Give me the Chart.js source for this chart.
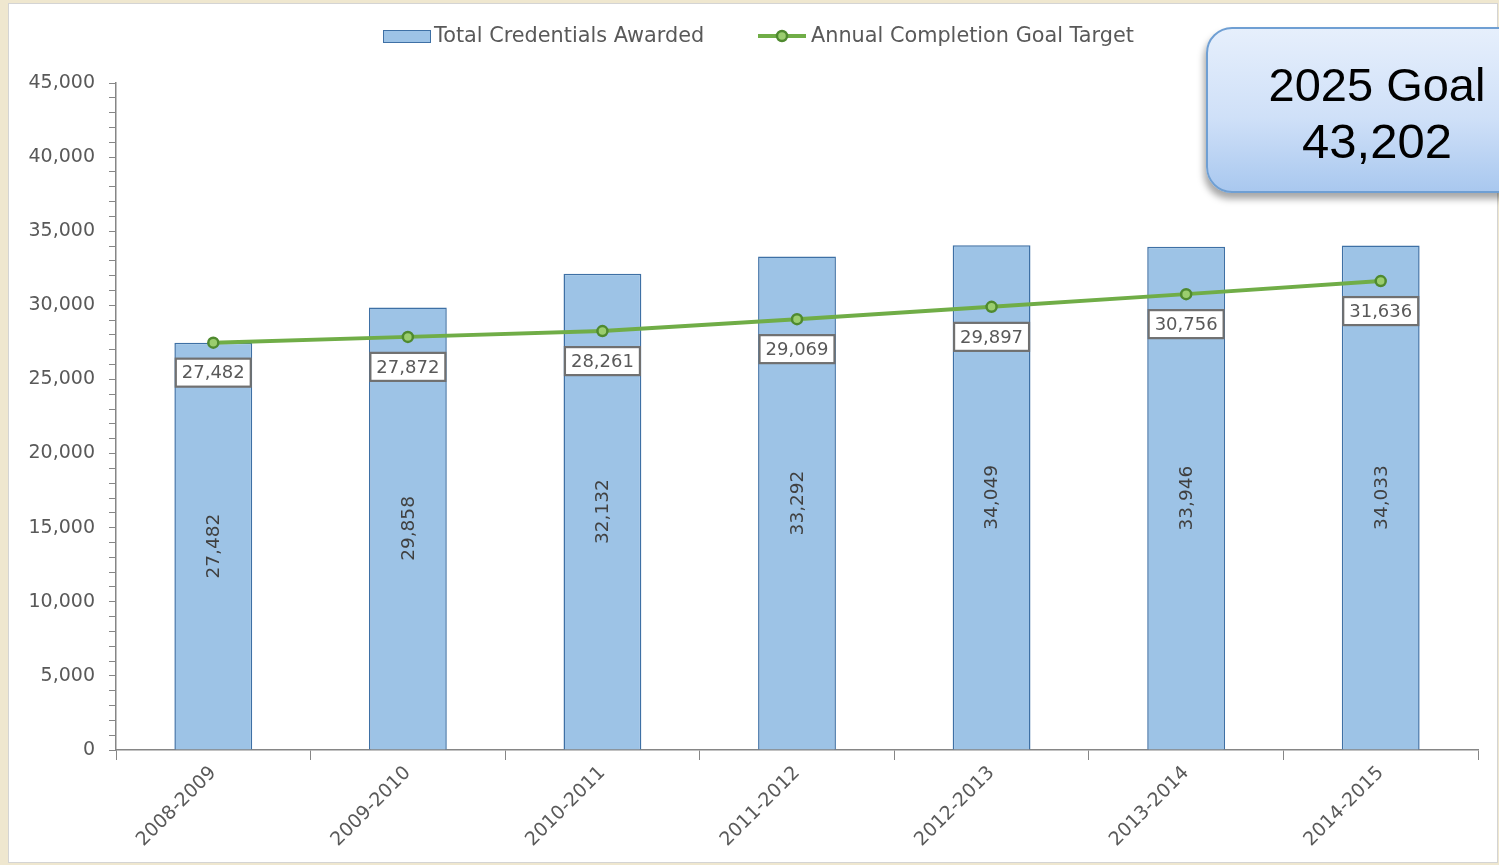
<!DOCTYPE html>
<html>
<head>
<meta charset="utf-8">
<script src="https://cdn.jsdelivr.net/npm/chart.js@4.4.1/dist/chart.umd.min.js"></script>
<style>
  html, body { margin: 0; padding: 0; }
  body {
    width: 1499px; height: 865px; overflow: hidden; position: relative;
    background: #efe7cf;
  }
  #frame {
    position: absolute; left: 8px; top: 3px; width: 1488px; height: 858px;
    background: #fff; border: 1px solid #d4d4d4;
  }
  #wrap { position: absolute; left: 0; top: 0; width: 1499px; height: 865px; }
  #goal {
    position: absolute; left: 1206px; top: 27px; width: 340px; height: 162px;
    border: 2px solid #6f9fd3; border-radius: 26px;
    background: linear-gradient(to bottom, #e6effc 0%, #cfe0f8 55%, #a9c8ef 100%);
    box-shadow: -2px 6px 7px rgba(0,0,0,0.35);
    font-family: "Liberation Sans", Arial, sans-serif; font-size: 47px; color: #000;
  }
  #goal div { position: absolute; left: -166px; width: 670px; text-align: center; }
</style>
</head>
<body>
<div id="frame"></div>
<div id="wrap"><canvas id="chart" width="1499" height="865"></canvas></div>
<div id="goal"><div style="top:28px">2025 Goal</div><div style="top:84px;font-size:49px">43,202</div></div>
<script>
// chart data
const years = ['2008-2009', '2009-2010', '2010-2011', '2011-2012', '2012-2013', '2013-2014', '2014-2015'];
const credentialsAwarded = [27482, 29858, 32132, 33292, 34049, 33946, 34033];
const goalTarget = [27482, 27872, 28261, 29069, 29897, 30756, 31636];
const yTicks = [0, 5000, 10000, 15000, 20000, 25000, 30000, 35000, 40000, 45000];

const barFill = '#9dc3e6';
const barEdge = '#3e70a5';
const lineColor = '#70ad47';
const textGray = '#595959';
const fontFam = '"DejaVu Sans", Verdana, sans-serif';

const fmt = v => v.toLocaleString('en-US');

// legend + data labels drawn by hand to get the Excel look
const labelsPlugin = {
  id: 'excelLabels',
  afterDatasetsDraw(chart) {
    const ctx = chart.ctx;
    // bar values, rotated inside the bars
    const barMeta = chart.getDatasetMeta(0);
    ctx.save();
    ctx.font = '18.5px ' + fontFam;
    ctx.fillStyle = '#404040';
    ctx.textAlign = 'center';
    ctx.textBaseline = 'middle';
    barMeta.data.forEach((bar, i) => {
      const midY = (bar.y + bar.base) / 2;
      ctx.save();
      ctx.translate(bar.x, midY);
      ctx.rotate(-Math.PI / 2);
      ctx.fillText(fmt(credentialsAwarded[i]), 0, 1);
      ctx.restore();
    });
    ctx.restore();

    // line values in boxes below the points
    const lineMeta = chart.getDatasetMeta(1);
    ctx.save();
    ctx.font = '18px ' + fontFam;
    ctx.textAlign = 'center';
    ctx.textBaseline = 'middle';
    lineMeta.data.forEach((pt, i) => {
      const txt = fmt(goalTarget[i]);
      const w = ctx.measureText(txt).width + 12;
      const h = 28;
      const cx = pt.x, cy = pt.y + 30;
      ctx.fillStyle = '#fff';
      ctx.fillRect(cx - w / 2, cy - h / 2, w, h);
      ctx.strokeStyle = '#707070';
      ctx.lineWidth = 2.2;
      ctx.strokeRect(cx - w / 2, cy - h / 2, w, h);
      ctx.fillStyle = textGray;
      ctx.fillText(txt, cx, cy + 1);
    });
    ctx.restore();
  },
  afterDraw(chart) {
    const ctx = chart.ctx;
    ctx.save();
    ctx.font = '20.8px ' + fontFam;
    ctx.textBaseline = 'middle';
    // bar swatch
    ctx.fillStyle = barFill;
    ctx.fillRect(383, 30, 47, 12);
    ctx.strokeStyle = barEdge;
    ctx.lineWidth = 1;
    ctx.strokeRect(383.5, 30.5, 47, 12);
    ctx.fillStyle = textGray;
    ctx.fillText(chart.data.datasets[0].label, 434, 37);
    // line swatch
    ctx.strokeStyle = lineColor;
    ctx.lineWidth = 4;
    ctx.beginPath();
    ctx.moveTo(758, 36);
    ctx.lineTo(806, 36);
    ctx.stroke();
    ctx.beginPath();
    ctx.arc(782, 36, 5, 0, Math.PI * 2);
    ctx.fillStyle = '#9acd6e';
    ctx.fill();
    ctx.lineWidth = 2.5;
    ctx.strokeStyle = '#4f8a2f';
    ctx.stroke();
    ctx.fillStyle = textGray;
    ctx.fillText(chart.data.datasets[1].label, 811, 37);
    ctx.restore();
  }
};

new Chart(document.getElementById('chart'), {
  data: {
    labels: years,
    datasets: [
      {
        type: 'bar',
        label: 'Total Credentials Awarded',
        data: credentialsAwarded,
        backgroundColor: barFill,
        borderColor: barEdge,
        borderWidth: 1.5,
        categoryPercentage: 1,
        barPercentage: 0.4,
        order: 2
      },
      {
        type: 'line',
        label: 'Annual Completion Goal Target',
        data: goalTarget,
        borderColor: lineColor,
        borderWidth: 4,
        pointRadius: 5,
        pointBackgroundColor: '#9acd6e',
        pointBorderColor: '#4f8a2f',
        pointBorderWidth: 2.5,
        tension: 0,
        order: 1
      }
    ]
  },
  options: {
    responsive: false,
    animation: false,
    layout: { padding: { top: 83, right: 21, left: 0, bottom: 0 } },
    plugins: { legend: { display: false }, tooltip: { enabled: false } },
    scales: {
      x: {
        offset: true,
        grid: { offset: true, drawOnChartArea: false, color: '#868686', tickLength: 10 },
        border: { color: '#868686', width: 1.5 },
        ticks: { color: textGray, font: { family: fontFam, size: 19 }, minRotation: 45, maxRotation: 45, padding: 2 },
        afterFit(scale) { scale.height = 115; }
      },
      y: {
        min: 0,
        max: 45000,
        afterBuildTicks(scale) {
          const t = [];
          for (let v = 0; v <= 45000; v += 1000) t.push({ value: v });
          scale.ticks = t;
        },
        grid: { drawOnChartArea: false, color: '#868686', tickLength: 7 },
        border: { color: '#868686', width: 1.5 },
        ticks: {
          color: textGray,
          font: { family: fontFam, size: 19 },
          padding: 14,
          autoSkip: false,
          callback: v => (yTicks.includes(v) ? fmt(v) : '')
        },
        afterFit(scale) { scale.width = 116; }
      }
    }
  },
  plugins: [labelsPlugin]
});
</script>
</body>
</html>
